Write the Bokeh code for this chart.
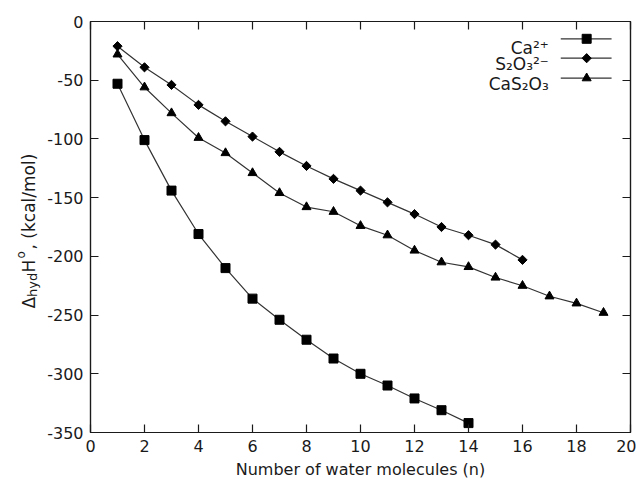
import math
from bokeh.plotting import figure
from bokeh.layouts import row
from bokeh.models import Range1d, FixedTicker, LinearAxis, Label
from bokeh.embed import file_html
from bokeh.resources import INLINE

# ---------------- data ----------------
n_ca = [1, 2, 3, 4, 5, 6, 7, 8, 9, 10, 11, 12, 13, 14]
dh_ca = [-53, -101, -144, -181, -210, -236, -254, -271, -287, -300, -310, -321, -331, -342]

n_s2o3 = [1, 2, 3, 4, 5, 6, 7, 8, 9, 10, 11, 12, 13, 14, 15, 16]
dh_s2o3 = [-21, -39, -54, -71, -85, -98, -111, -123, -134, -144, -154, -164, -175, -182, -190, -203]

n_cas2o3 = [1, 2, 3, 4, 5, 6, 7, 8, 9, 10, 11, 12, 13, 14, 15, 16, 17, 18, 19]
dh_cas2o3 = [-28, -56, -78, -99, -112, -129, -146, -158, -162, -174, -182, -195, -205, -209, -218, -225, -234, -240, -248]

series_names = ["Ca\u00b2\u207a", "S\u2082O\u2083\u00b2\u207b", "CaS\u2082O\u2083"]
x_ticks = [0, 2, 4, 6, 8, 10, 12, 14, 16, 18, 20]
y_ticks = [-350, -300, -250, -200, -150, -100, -50, 0]
x_label = "Number of water molecules (n)"
y_label_parts = ["\u0394", "hyd", "H", "o", ", (kcal/mol)"]

# ---------------- layout (page pixels) ----------------
H = 482
LW = 44                      # strip holding the y-axis title
W = 636 - LW
PL, PT, FW, FH = 88, 21, 542, 411   # frame left/top on the page, frame size
FL = PL - LW
X0, X1, Y0, Y1 = 0, 20, -350, 0
FONT = "DejaVu Sans"
INK = "#1a1a1a"
LINE = "#333333"


def dx(page_x):
    return X0 + (page_x - PL) / FW * (X1 - X0)


def dy(page_y):
    return Y1 - (page_y - PT) / FH * (Y1 - Y0)


p = figure(width=W, height=H, x_range=Range1d(X0, X1), y_range=Range1d(Y0, Y1),
           output_backend="svg", toolbar_location=None,
           min_border_left=FL, min_border_top=PT,
           min_border_right=W - FL - FW, min_border_bottom=H - PT - FH)
p.grid.visible = False
p.outline_line_color = INK
p.outline_line_width = 1.2

bottom_ax = p.below[0]
left_ax = p.left[0]
bottom_ax.ticker = FixedTicker(ticks=x_ticks)
left_ax.ticker = FixedTicker(ticks=y_ticks)
left_ax.major_label_overrides = {t: str(t) for t in y_ticks}
bottom_ax.axis_label = x_label
bottom_ax.axis_label_text_font = FONT
bottom_ax.axis_label_text_font_size = "16px"
bottom_ax.axis_label_text_font_style = "normal"
bottom_ax.axis_label_text_color = INK
bottom_ax.axis_label_standoff = 5
bottom_ax.major_label_standoff = 7
left_ax.major_label_standoff = 7

top_ax = LinearAxis(ticker=FixedTicker(ticks=x_ticks),
                    major_label_overrides={t: "" for t in x_ticks})
right_ax = LinearAxis(ticker=FixedTicker(ticks=y_ticks),
                      major_label_overrides={t: "" for t in y_ticks})
p.add_layout(top_ax, "above")
p.add_layout(right_ax, "right")

for ax in (bottom_ax, left_ax, top_ax, right_ax):
    ax.major_tick_in = 8
    ax.major_tick_out = 0
    ax.minor_tick_in = 0
    ax.minor_tick_out = 0
    ax.axis_line_color = INK
    ax.axis_line_width = 1.2
    ax.major_tick_line_color = INK
    ax.major_tick_line_width = 1.2
    ax.major_label_text_font = FONT
    ax.major_label_text_color = INK
for ax in (bottom_ax, left_ax):
    ax.major_label_text_font_size = "16px"
for ax in (top_ax, right_ax):
    ax.major_label_text_font_size = "1px"
    ax.major_label_standoff = 0

# ---------------- series ----------------
# (marker, size, angle): the diamond is a square turned by 45 degrees, as in gnuplot
styles = [("square", 9, 0.0), ("square", 6.5, math.pi / 4), ("triangle", 9, 0.0)]
series = [(n_ca, dh_ca), (n_s2o3, dh_s2o3), (n_cas2o3, dh_cas2o3)]
for (xs, ys), (mk, sz, ang) in zip(series, styles):
    p.line(xs, ys, line_color=LINE, line_width=1.2)
    p.scatter(xs, ys, marker=mk, size=sz, angle=ang,
              fill_color="black", line_color="black")

# ---------------- legend (gnuplot style: text left, sample right) ----------------
row_y = [38.3, 57.7, 77.7]
text_drop = [9.0, 5.6, 5.6]
for name, (mk, sz, ang), cy, drop in zip(series_names, styles, row_y, text_drop):
    p.segment(x0=[dx(560)], y0=[dy(cy)], x1=[dx(611)], y1=[dy(cy)],
              line_color=LINE, line_width=1.2)
    p.scatter(x=[dx(586)], y=[dy(cy)], marker=mk, size=sz, angle=ang,
              fill_color="black", line_color="black")
    p.add_layout(Label(x=dx(548), y=dy(cy + drop), text=name, text_align="right",
                       text_baseline="alphabetic", text_font=FONT,
                       text_font_size="17px", text_color=INK))

# ---------------- y-axis title strip, composed of real text pieces ----------------
# the row aligns this strip's frame with the main frame (page y PT .. PT+FH),
# so its y range is set to give "H - page y" in data units
lab = figure(width=LW, height=H, x_range=Range1d(0, LW),
             y_range=Range1d(H - (PT + FH), H - PT),
             output_backend="svg", toolbar_location=None,
             x_axis_type=None, y_axis_type=None, min_border=0)
lab.grid.visible = False
lab.outline_line_color = None
# (text, font size, baseline x on page, start y on page)
pieces = [
    (y_label_parts[0], "17px", 28, 308),
    (y_label_parts[1], "13px", 32, 296.5),
    (y_label_parts[2], "17px", 28, 272),
    (y_label_parts[3], "12px", 20.5, 258),
    (y_label_parts[4], "17px", 28, 249),
]
for txt, fs, bx, sy in pieces:
    lab.add_layout(Label(x=bx, y=H - sy, text=txt, angle=math.pi / 2,
                         text_align="left", text_baseline="alphabetic",
                         text_font=FONT, text_font_size=fs, text_color=INK))

layout = row(lab, p)
open("out.html", "w").write(file_html(layout, INLINE))
